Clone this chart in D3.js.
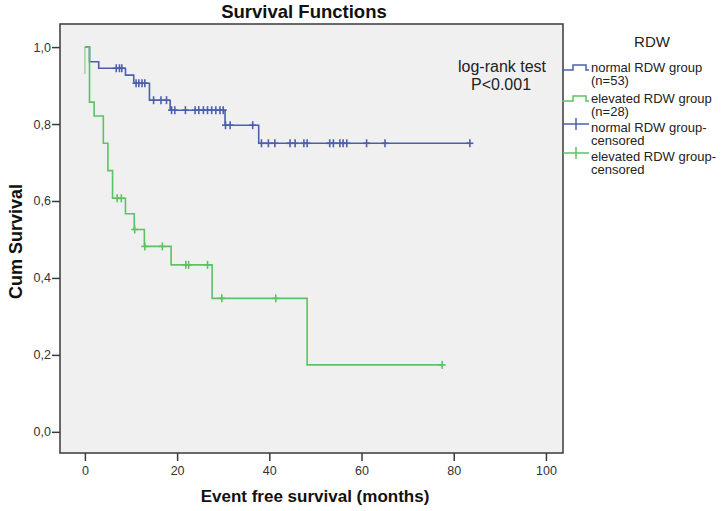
<!DOCTYPE html>
<html>
<head>
<meta charset="utf-8">
<script src="https://cdn.jsdelivr.net/npm/d3@7"></script>
<style>
  html, body { margin: 0; padding: 0; background: #ffffff; }
  svg { display: block; font-family: "Liberation Sans", Arial, sans-serif; }
</style>
</head>
<body>
<svg id="chart" width="721" height="511"></svg>
<script>
// ---- Data ----
const xTicks = [0, 20, 40, 60, 80, 100];
const yTicks = [0, 0.2, 0.4, 0.6, 0.8, 1.0];

// [time, survival after this time]
const normalSteps = [[0, 1], [1, 0.962], [3, 0.945], [8.8, 0.927], [10.6, 0.906], [14, 0.862], [18.5, 0.836], [30.4, 0.797], [37.7, 0.750]];
const normalCensored = [6.8, 7.5, 8.0, 11.1, 11.7, 12.4, 13.0, 14.9, 16.5, 17.7, 18.8, 19.5, 21.8, 23.9, 24.7, 25.7, 26.6, 27.5, 28.4, 29.3, 30.0, 30.5, 31.5, 36.4, 38.3, 39.8, 41.2, 44.5, 45.6, 47.5, 48.2, 53.1, 53.9, 55.3, 56.0, 56.8, 61.1, 65.1, 83.5];

const elevatedSteps = [[0, 1], [1, 0.857], [2, 0.821], [4, 0.750], [5, 0.679], [6, 0.607], [8.8, 0.567], [10.7, 0.526], [12.9, 0.482], [18.7, 0.434], [27.6, 0.347], [48.2, 0.174]];
const elevatedCensored = [7.0, 7.9, 10.8, 13.0, 16.8, 21.9, 22.5, 26.6, 29.7, 41.4, 77.5];
const elevatedStartDip = 0.93;

const legendTitle = "RDW";
const legendLabels = [
  ["normal RDW group", "(n=53)"],
  ["elevated RDW group", "(n=28)"],
  ["normal RDW group-", "censored"],
  ["elevated RDW group-", "censored"]
];

// ---- Layout ----
const blue = "#4b5fae", green = "#5cc262";
const svg = d3.select("#chart");
const L = 60, R = 563, T = 24, B = 453;
const x = d3.scaleLinear().domain([-5.4, 103.7]).range([L, R]);
const y = d3.scaleLinear().domain([-0.055, 1.06]).range([B, T]);

svg.append("rect").attr("x", L).attr("y", T).attr("width", R - L).attr("height", B - T)
  .attr("fill", "#f0f0f0");

function survAt(steps, t) {
  let v = steps[0][1];
  for (const s of steps) if (s[0] <= t) v = s[1];
  return v;
}
function stepPath(steps, tEnd) {
  let d = `M${x(steps[0][0])},${y(steps[0][1])}`;
  for (let i = 1; i < steps.length; i++) {
    d += `H${x(steps[i][0])}V${y(steps[i][1])}`;
  }
  d += `H${x(tEnd)}`;
  return d;
}
function drawSeries(steps, censored, color) {
  const tEnd = d3.max(censored);
  svg.append("path").attr("d", stepPath(steps, tEnd)).attr("fill", "none")
    .attr("stroke", color).attr("stroke-width", 1.6);
  const g = svg.append("g").attr("stroke", color).attr("stroke-width", 1.6);
  censored.forEach(t => {
    const cx = x(t), cy = y(survAt(steps, t));
    g.append("line").attr("x1", cx).attr("x2", cx).attr("y1", cy - 4).attr("y2", cy + 4);
    g.append("line").attr("x1", cx - 3.5).attr("x2", cx + 3.5).attr("y1", cy).attr("y2", cy);
  });
}

drawSeries(normalSteps, normalCensored, blue);
// elevated group's light initial dip at time 0
svg.append("line").attr("x1", x(0)).attr("x2", x(0)).attr("y1", y(1)).attr("y2", y(elevatedStartDip))
  .attr("stroke", green).attr("stroke-width", 1.6).attr("opacity", 0.55);
drawSeries(elevatedSteps, elevatedCensored, green);

// frame
svg.append("rect").attr("x", L).attr("y", T).attr("width", R - L).attr("height", B - T)
  .attr("fill", "none").attr("stroke", "#3a3a3a").attr("stroke-width", 1.5);

// axes
const yAxis = d3.axisLeft(y).tickValues(yTicks).tickSize(8)
  .tickFormat(d => d3.format(".1f")(d).replace(".", ","));
const gy = svg.append("g").attr("transform", `translate(${L},0)`).call(yAxis);
gy.select(".domain").remove();
gy.selectAll(".tick line").attr("stroke", "#3a3a3a").attr("stroke-width", 1.5);
gy.selectAll(".tick text").attr("font-size", 12.5).attr("fill", "#333").attr("x", -9)
  .attr("font-family", "Liberation Sans, Arial, sans-serif");

const xAxis = d3.axisBottom(x).tickValues(xTicks).tickSize(8).tickFormat(d3.format("d"));
const gx = svg.append("g").attr("transform", `translate(0,${B})`).call(xAxis);
gx.select(".domain").remove();
gx.selectAll(".tick line").attr("stroke", "#3a3a3a").attr("stroke-width", 1.5);
gx.selectAll(".tick text").attr("font-size", 12.5).attr("fill", "#333").attr("y", 13)
  .attr("font-family", "Liberation Sans, Arial, sans-serif");

// titles
svg.append("text").attr("x", 304).attr("y", 18).attr("text-anchor", "middle")
  .attr("font-size", 18.5).attr("font-weight", "bold").attr("fill", "#111").text("Survival Functions");
svg.append("text").attr("x", 315).attr("y", 502).attr("text-anchor", "middle")
  .attr("font-size", 17).attr("font-weight", "bold").attr("fill", "#111").text("Event free survival (months)");
svg.append("text").attr("transform", `translate(22,${(T + B) / 2 + 3}) rotate(-90)`).attr("text-anchor", "middle")
  .attr("font-size", 18).attr("font-weight", "bold").attr("fill", "#111").text("Cum Survival");

// annotation
svg.append("text").attr("x", 502).attr("y", 72).attr("text-anchor", "middle")
  .attr("font-size", 16).attr("fill", "#222").text("log-rank test");
svg.append("text").attr("x", 501).attr("y", 90).attr("text-anchor", "middle")
  .attr("font-size", 16).attr("fill", "#222").text("P<0.001");

// legend
svg.append("text").attr("x", 652).attr("y", 47).attr("text-anchor", "middle")
  .attr("font-size", 15).attr("fill", "#222").text(legendTitle);
const rowY = [67, 98, 127, 156];
const colors = [blue, green, blue, green];
legendLabels.forEach((lines, i) => {
  const cy = rowY[i];
  if (i < 2) {
    svg.append("path").attr("d", `M562,${cy + 3}H573V${cy - 2}H586V${cy + 3}H589`)
      .attr("fill", "none").attr("stroke", colors[i]).attr("stroke-width", 1.5);
  } else {
    svg.append("line").attr("x1", 563).attr("x2", 589).attr("y1", cy - 3).attr("y2", cy - 3)
      .attr("stroke", colors[i]).attr("stroke-width", 1.5);
    svg.append("line").attr("x1", 576).attr("x2", 576).attr("y1", cy - 9).attr("y2", cy + 3)
      .attr("stroke", colors[i]).attr("stroke-width", 1.5);
  }
  lines.forEach((s, j) => {
    svg.append("text").attr("x", 591).attr("y", cy + 4.5 + j * 13.5)
      .attr("font-size", 13).attr("fill", "#222").text(s);
  });
});
</script>
</body>
</html>
